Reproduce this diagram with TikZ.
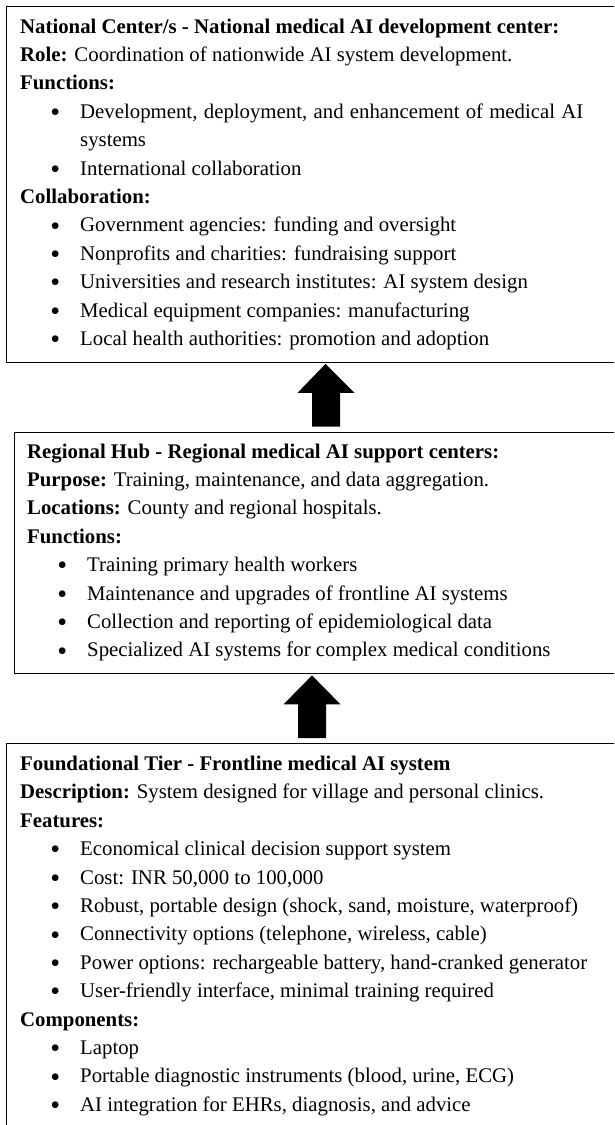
\documentclass[tikz,border=0pt]{standalone}
\usepackage{fontspec}
\setmainfont{Liberation Serif}
\usetikzlibrary{calc}

% line layout inside the tier boxes
\newcommand\tierdot{\raisebox{-3.2pt}{\scalebox{1.35}{\textbullet}}}
\newcommand\tline[1]{\par\noindent#1}
\newcommand\bitem[1]{\par\noindent\hspace*{60pt}\llap{\tierdot\hspace{20pt}}#1}
\newcommand\tierfont{\fontsize{20.8}{28.4}\selectfont}

\begin{document}
\begin{tikzpicture}[x=1pt,y=1pt,
  tierbox/.style={draw=black, line width=0.9pt, inner sep=0pt, anchor=north west},
  tiertext/.style={anchor=base west, inner sep=0pt, font=\tierfont},
  blockarrow/.style={fill=black, to path={
    let \p1=(\tikztostart), \p2=(\tikztotarget) in
    (\x1-14pt,\y1) -- (\x1-14pt,\y2-29pt) -- (\x1-28.5pt,\y2-29pt) -- (\x2,\y2)
    -- (\x1+28.5pt,\y2-29pt) -- (\x1+14pt,\y2-29pt) -- (\x1+14pt,\y1) -- cycle}},
]
\useasboundingbox (0,0) rectangle (614,-1125);
\clip (0,0) rectangle (614,-1125);

% tier boxes
\node[tierbox, minimum width=700pt, minimum height=356pt] (b1) at (5.5,-6) {};
\node[tierbox, minimum width=700pt, minimum height=241pt] (b2) at (14,-431.5) {};
\node[tierbox, minimum width=700pt, minimum height=500pt] (b3) at (5.5,-743) {};

% national tier
\node[tiertext] (t1) at (20,-33) {\parbox[t]{590pt}{%
  \tline{\textbf{National Center/s - National medical AI development center:}}
  \tline{\textbf{Role:} Coordination of nationwide AI system development.}
  \tline{\textbf{Functions:}}
  \bitem{\makebox[503pt][s]{Development, deployment, and enhancement of medical AI}}
  \tline{\hspace*{60pt}systems}
  \bitem{International collaboration}
  \tline{\textbf{Collaboration:}}
  \bitem{Government agencies: funding and oversight}
  \bitem{Nonprofits and charities: fundraising support}
  \bitem{Universities and research institutes: AI system design}
  \bitem{Medical equipment companies: manufacturing}
  \bitem{Local health authorities: promotion and adoption}}};

% regional tier
\node[tiertext] (t2) at (27,-458) {\parbox[t]{580pt}{%
  \tline{\textbf{Regional Hub - Regional medical AI support centers:}}
  \tline{\textbf{Purpose:} Training, maintenance, and data aggregation.}
  \tline{\textbf{Locations:} County and regional hospitals.}
  \tline{\textbf{Functions:}}
  \bitem{Training primary health workers}
  \bitem{Maintenance and upgrades of frontline AI systems}
  \bitem{Collection and reporting of epidemiological data}
  \bitem{Specialized AI systems for complex medical conditions}}};

% foundational tier
\node[tiertext] (t3) at (20,-770.5) {\parbox[t]{590pt}{%
  \tline{\textbf{Foundational Tier - Frontline medical AI system}}
  \tline{\textbf{Description:} System designed for village and personal clinics.}
  \tline{\textbf{Features:}}
  \bitem{Economical clinical decision support system}
  \bitem{Cost: INR 50,000 to 100,000}
  \bitem{Robust, portable design (shock, sand, moisture, waterproof)}
  \bitem{Connectivity options (telephone, wireless, cable)}
  \bitem{Power options: rechargeable battery, hand-cranked generator}
  \bitem{User-friendly interface, minimal training required}
  \tline{\textbf{Components:}}
  \bitem{Laptop}
  \bitem{Portable diagnostic instruments (blood, urine, ECG)}
  \bitem{AI integration for EHRs, diagnosis, and advice}}};

% upward block arrows between tiers
\coordinate (a1s) at ($(b2.north west)+(312,5)$);
\coordinate (a1t) at ($(b1.south west)+(320,-1)$);
\coordinate (a2s) at ($(b3.north west)+(306.5,5)$);
\coordinate (a2t) at ($(b2.south west)+(298,-2)$);
\fill[blockarrow] (a1s) to (a1t);
\fill[blockarrow] (a2s) to (a2t);
\end{tikzpicture}
\end{document}
